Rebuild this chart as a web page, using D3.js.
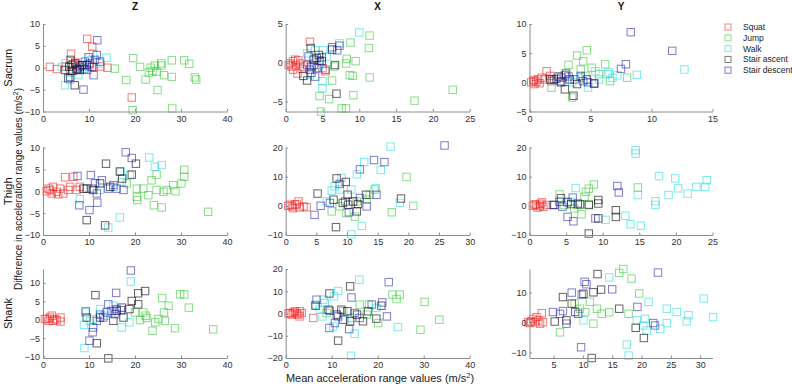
<!DOCTYPE html>
<html>
<head>
<meta charset="utf-8">
<script src="https://cdn.jsdelivr.net/npm/d3@7"></script>
<style>
  body { margin: 0; background: #fff; }
  text { font-family: "Liberation Sans", Arial, sans-serif; }
</style>
</head>
<body>
<div id="chart"></div>
<script>
// categories
const activities = ["Squat", "Jump", "Walk", "Stair ascent", "Stair descent"];
const segments = ["Sacrum", "Thigh", "Shank"];
const directions = ["Z", "X", "Y"];

// each panel: [squat, jump, walk, stair ascent, stair descent], points are [mean, difference]
const sacrumZ = [
    [[1.5,0.2],[3,-0.3],[6.1,3.2],[9.6,6.6],[10.7,4.8],[14,0],[19.3,-6.8],[5,0.3],[6.5,0.8],[7.5,-0.5],[8,0.5],[9,-0.3],[10,0.6],[11,0.2],[12.5,0.3],[6,-0.8],[7,1.2]],
    [[15.6,-0.2],[18.1,-2.8],[19.6,2.2],[19.5,-9.7],[21.1,0.2],[22.3,-2.7],[23.4,0],[23,-1.1],[24.7,-0.9],[24.9,-5.1],[25.7,1],[25.7,0.5],[26.3,-1.7],[28,1.7],[28,-2.1],[28.1,-9.3],[30.7,1.7],[31.8,0.9],[33,-2.2],[33.3,-2.7],[23.8,-0.7],[24.3,0.5]],
    [[13.8,2.3],[12.4,1],[4.8,-4],[5.9,-2.8],[7.7,-1.7],[4.1,0.2],[8.8,-0.2],[10.2,1.8],[10.9,3.3],[7.2,-0.5],[4.9,1],[9.5,0.2]],
    [[6.9,-4],[5.5,-2.4],[6.2,0.6],[7.3,-0.2],[8.4,0.6],[6,1.8],[4.8,-0.5],[8,-0.5],[7,1],[9.5,0.6],[6.4,-0.7],[5.7,0.2]],
    [[11.8,6.3],[8.8,-5],[11,-1.7],[10.2,1],[9.6,-0.5],[10.6,0.2],[11.3,1.8],[12.4,1.4],[8,0.2],[9.1,1.4],[9.9,2.4],[5.9,-2.1],[11.7,2.9],[7.5,-0.4],[8.6,0.6]]
];
const sacrumX = [
    [[0.6,-0.1],[1,0.2],[1.4,-0.3],[0.8,-0.5],[1.7,0.3],[1,-0.9],[1.6,-1.4],[3.3,2.7],[2.4,-0.5],[0.4,-0.3],[2,-0.1],[1.3,0.4],[2.2,-0.8],[5,-0.7],[5.4,-1.1]],
    [[11.4,3.5],[11.3,1.9],[8.8,2.6],[8.3,0.5],[9.5,0.2],[8.2,-0.1],[8.7,-1.6],[9.1,-1.7],[11.4,-1.9],[6.3,-2.3],[4.6,-4.3],[5.9,-4.7],[9.2,-4.2],[4.8,-6.3],[7.6,-5.9],[8.2,-5.9],[17.5,-4.9],[22.7,-3.5],[6.6,-0.5]],
    [[10,3.9],[7.3,2.5],[5,-2.4],[5,-3.3],[4,1.6],[2.9,1.2],[5.6,0.8],[3.3,-1.6],[4.5,-0.3],[5.1,1.6]],
    [[3.4,1.9],[2.9,-2.3],[6.7,-0.3],[6.9,-4],[3.8,0.4],[4.9,0.2],[4.2,0.6],[2.4,-1.7],[6.3,1.7],[3.5,-0.5],[4.5,1]],
    [[7.3,2.2],[7,1.6],[6.3,2],[3.1,0.8],[3.8,-0.3],[4,-1.8],[3.3,-0.9],[4.6,0.3],[5.4,-0.9],[2.9,-0.3],[4.2,-0.7],[3.5,-1.3],[4.9,0.7]]
];
const sacrumY = [
    [[0.14,0],[0.3,0.2],[0.4,-0.3],[0.7,0.5],[1,0.8],[1.4,1.9],[0.55,0.1],[1.25,0.5],[1.7,1.1],[0.36,0.4],[0.83,-0.15],[1.8,0.2]],
    [[3.9,4.6],[4.7,5.5],[4.4,3.6],[3.2,3],[5.1,2.5],[6.2,3.1],[6.6,0.2],[8,0.8],[1.8,-0.9],[3.5,-2.6],[5.7,1.4],[4.2,2.2],[4.6,1.1]],
    [[12.7,2.2],[8.8,1.3],[6.5,1.7],[7.2,1.2],[5.7,0.5],[4.8,-0.9],[4.2,0.8],[5.4,1.9],[6.8,0.8],[3.5,0],[6.4,1.4]],
    [[2.9,-1.2],[3.6,-2.3],[3.3,0.5],[2.4,1],[4.7,0.5],[2.6,0],[2,0.5],[3.9,-0.3],[5.3,-0.2],[3,1.5],[1.7,0.5]],
    [[8.3,8.6],[11.7,5.4],[7.9,3.1],[7.5,2.3],[5.3,-0.2],[4.4,0.2],[2.6,0.8],[2.2,0.6],[3.2,1],[3.7,0.5],[2.5,0.2],[4.2,1.1],[4.8,0],[2.9,1.2]]
];
const thighZ = [
    [[0.8,0],[1.5,0.3],[2.2,1],[3,-0.1],[3.7,0.6],[4.8,3.2],[6.6,3.3],[4.4,-0.5],[5.5,0.3],[7.3,0.3],[1.9,-0.5],[5.9,1],[1.2,0.6],[3.3,-0.7],[8,1]],
    [[30.7,4.9],[30.7,3.3],[30.1,1.8],[28.8,0],[24.7,3.8],[23.6,2.5],[24.1,-3.2],[25.8,-3.7],[35.9,-4.7],[20.4,0.6],[20.4,-1.3],[20.5,-2],[22.9,-0.9],[24.7,0.3],[26.2,-0.1],[18.2,1.8],[26.9,0.3],[28.3,1.4],[21.8,0.6]],
    [[23.1,7.7],[24.3,5.6],[25.8,6],[16.7,-6],[14.2,-8.3],[8,-1.8],[18.9,3.7],[16.9,4.5],[15.3,1],[12.4,0.3],[17.1,2.1]],
    [[13.7,6.3],[9.5,-6.6],[13.5,-7.8],[16.7,4.5],[19.3,3.8],[20.2,6.3],[9.5,0.6],[17.2,2.9],[12.4,1.8],[10.9,0.3],[8.8,0.6],[14.6,1]],
    [[18,8.9],[19.3,7.6],[7.5,3.5],[7.9,-3.2],[10.1,-4.3],[10.4,3.7],[11.8,-2.6],[11.7,-0.5],[10.6,0.6],[12.8,2.5],[14.2,0.6],[15.3,1.4],[17.5,0.3],[16,0.6],[11.3,1.8]]
];
const thighX = [
    [[0.4,0],[1,-0.2],[1.5,0.4],[2.1,1.5],[2.3,-0.5],[1.2,-0.8],[2.9,-0.2],[3.4,-0.5],[1.8,0.6],[0.7,0.4]],
    [[19.7,9.9],[20.8,0],[17.3,-2.2],[14.5,5.6],[13.2,2.1],[11.3,-3.7],[9.9,-2.5],[7.5,-1.9],[11.6,1.5],[8.8,-0.2],[13.7,3.8]],
    [[17.1,20.3],[12.8,15],[11.6,10.8],[15.5,12.3],[9.1,9.6],[8,6.7],[7.5,5.2],[8.8,5.6],[10.7,5.6],[14.7,6.1],[18.6,1],[12.4,-6.9],[10.7,-9.8],[6.7,1.5]],
    [[8.2,-7.3],[8.3,9.4],[9.8,8.2],[5.2,4.2],[18.8,2.5],[7.8,2.1],[10.1,3.8],[11.6,-1.9],[10.2,0.4],[11.8,0.6],[13.1,3.8],[9.3,1],[11,1.5]],
    [[25.9,20.7],[14.4,15.7],[16.1,15],[12.1,12.5],[4.7,-3.1],[5.7,0],[8.8,7.5],[10.3,-2.2],[14.8,3.8],[12.1,2.7],[7.2,1],[9.7,1.5],[13.2,-0.2]]
];
const thighY = [
    [[0.45,0],[0.9,0.3],[1.4,-0.1],[1.7,1.2],[1.9,-0.3],[0.7,0.5],[1.1,-0.6],[2.3,0.3],[1.5,0.7]],
    [[8.8,7.3],[8.1,5.9],[7.7,4.8],[14.8,6.3],[4.1,3.9],[7.1,-2.9],[6.1,-0.9],[4.7,0.3],[8.1,0.5],[5.2,1.4],[7.5,3.1],[6.6,0.3]],
    [[14.5,19.1],[14.5,17.9],[17.7,10.2],[19.9,9.4],[20.3,6],[19,3.7],[21.6,4.2],[22.8,6.5],[24,6.5],[24.2,8.8],[17.2,1.6],[17.2,0.3],[14.8,3.7],[13.1,-3.4],[13.8,-6.3],[15.2,-6.8],[10.4,-4.8],[6.3,6.1],[5.7,1.4]],
    [[8.1,-9.5],[11.8,-1.5],[11.8,-3.8],[9.4,2],[9.4,0.8],[9.4,-4.3],[4.3,2.6],[5.7,0.6],[3.4,0.3],[6.9,0.5],[8.1,0.3]],
    [[12,6.8],[12.2,4.6],[9,-4.3],[6,-5.3],[5.2,-3.8],[5.9,2.8],[4.1,1.4],[3.2,0.3],[4.5,-0.3],[6.6,0.8],[5.2,1.2]]
];
const shankZ = [
    [[0.8,0.2],[1.5,0.6],[1.9,1.1],[2.2,-0.3],[1.2,-0.3],[3.8,0.6],[3.8,-0.5],[2.6,0.2],[0.4,0.2],[3,-0.1]],
    [[29.8,6.9],[30.7,6.9],[31.7,3.3],[37,-2.6],[25.9,5.9],[27.3,3.8],[26.3,2],[28.7,-2.3],[23.8,-3],[26.5,-0.3],[24.4,-0.7],[22.3,1.1],[21.1,-0.1],[22.5,0.5],[25.1,0.2],[20,2],[21.8,2]],
    [[19.1,10.4],[9,-7.7],[9.2,2],[8.9,-1.4],[10.2,-0.3],[18.8,-0.7],[17.1,-2.1],[15.3,3.8],[10.9,0.2],[12.4,2.9],[13.5,1.1]],
    [[14.2,-10.5],[11.7,-6.4],[11.4,6.7],[22.2,7.8],[20.7,7.2],[20.7,4.2],[19.3,5.1],[17.1,3.3],[17.5,0.6],[15.3,-0.3],[12.4,0.6],[9.5,0.6],[16,2.4],[18.8,2.9]],
    [[19.1,13.4],[15.9,7.3],[14.2,4.2],[10.8,-3.4],[10.1,-5.7],[9.3,2.3],[10.9,-2.1],[12.4,1.4],[13.8,2],[14.9,2.4],[16,2.9],[13.1,0.6],[15.7,1.5],[11.7,-0.3],[16.9,2.6]]
];
const shankX = [
    [[0.6,0],[1.3,-0.5],[1.7,0.5],[2,1],[2.4,0],[2.7,-0.5],[3.1,1],[3,-1.3],[0.9,0.2],[6,-2],[3.5,0.2]],
    [[24.8,8.5],[23.2,8.5],[24.1,6.5],[30.2,5.2],[33.4,-2.8],[29.3,-7.3],[20.1,-4.3],[18.1,4],[16.1,4],[12.5,1],[14.3,-2],[8.9,0.2],[17.6,-0.5]],
    [[16,15.2],[11.4,10.1],[10.5,7.7],[8.5,4.7],[7.4,1.7],[8,-1.3],[24.4,-6.1],[15,-9.1],[14.2,-19],[10.3,-5.8],[6.4,4],[12.9,-2.8],[19.7,2.5],[8.2,6.2]],
    [[14,12.2],[11.4,-12.2],[9.5,9],[6.5,3.5],[12.1,1.7],[13.4,1],[15.5,-0.5],[17.9,1],[19.7,-2.3],[20.8,3.5],[16.8,-3.5],[11.1,-0.5],[14,-3.5],[9.3,1.7]],
    [[22.4,14.1],[14.3,7.2],[6.7,6.2],[9.5,-6.5],[9.6,1.2],[11.4,-1.3],[13.8,-7],[22,-1.3],[21,5],[18.7,4],[16.1,-2],[10.7,-4.3],[12.5,-2.8],[15,0.2]]
];
const shankY = [
    [[0.7,0.1],[1.2,0.4],[1.5,1.2],[1.8,0.1],[2.1,1.8],[2.4,0.7],[3,3.1],[1,-0.2],[2.7,-0.4],[3.2,0.1]],
    [[16.9,17.9],[16.2,16.6],[18.3,14.7],[19.6,9.7],[6.1,-3.3],[11.8,-0.4],[13.2,2.9],[14.5,3.4],[17.8,2.9],[11.2,6.9],[12.4,4.6],[9.5,4.6],[8.6,6.3],[10.4,3.5]],
    [[14.5,15.1],[21.2,6.9],[24.3,4.6],[26,3.5],[28,2.4],[30.6,8],[32.2,1.8],[27.7,0.4],[24.3,-0.2],[23.2,-2.1],[20.6,1.2],[20.9,-2.7],[17.5,-7.4],[17.8,-11.1],[19.2,0.7],[20.3,-1],[10.1,0.7]],
    [[12.5,16.2],[13.1,11],[11.5,-11.9],[16.2,4.6],[19,-1.8],[20.4,-5.2],[6.6,8.5],[8.1,6.3],[7.2,0.7],[5.2,0.3],[11.8,10.1],[8.7,3.5],[10.1,9.6]],
    [[22.8,16.7],[10.3,13.6],[10.6,12.8],[15,11.1],[8.1,10],[9.8,9.3],[19.3,5.2],[22,-0.2],[22.3,-1],[9.7,-8.3],[7.2,-0.4],[6.6,3.8],[4.9,3.5],[6.1,2.9],[9.2,2.9]]
];

// axis limits and ticks, panels in reading order
const xDomains = [[0,40],[0,25],[0,15],[0,40],[0,30],[0,25],[0,40],[0,40],[0.9,32.1]];
const yDomains = [[-10,10],[-6.3,5],[-5,10],[-10,10],[-10,20],[-10,20],[-10.4,13.8],[-20,20],[-11.9,17.9]];
const xTicks = [[0,10,20,30,40],[0,5,10,15,20,25],[0,5,10,15],[0,10,20,30,40],[0,5,10,15,20,25,30],[0,5,10,15,20,25],[0,10,20,30,40],[0,10,20,30,40],[5,10,15,20,25,30]];
const yTicks = [[-10,-5,0,5,10],[-5,0,5],[-5,0,5,10],[-10,-5,0,5,10],[-10,0,10,20],[-10,0,10,20],[-10,-5,0,5,10],[-20,-10,0,10,20],[-10,0,10]];

const panels = [sacrumZ, sacrumX, sacrumY, thighZ, thighX, thighY, shankZ, shankX, shankY];
const colors = ["#ee1111", "#22c422", "#11d8dd", "#111111", "#1212a8"];

const width = 792, height = 388;
const colX = [[43, 227], [285.7, 469.7], [529.5, 712.5]];
const rowY = [[24, 111.5], [147.5, 235], [269, 358]];
const markerSize = 7.4;

const svg = d3.select("#chart").append("svg")
    .attr("width", width)
    .attr("height", height);

panels.forEach((data, i) => {
    const r = Math.floor(i / 3), c = i % 3;
    const x = d3.scaleLinear().domain(xDomains[i]).range(colX[c]);
    const y = d3.scaleLinear().domain(yDomains[i]).range([rowY[r][1], rowY[r][0]]);

    const g = svg.append("g");

    // markers
    data.forEach((pts, k) => {
        g.append("g").selectAll("rect")
            .data(pts)
            .enter().append("rect")
            .attr("x", d => x(d[0]) - markerSize / 2)
            .attr("y", d => y(d[1]) - markerSize / 2)
            .attr("width", markerSize)
            .attr("height", markerSize)
            .attr("fill", "none")
            .attr("stroke", colors[k])
            .attr("stroke-opacity", k === 3 ? 0.65 : 0.55)
            .attr("stroke-width", 1);
    });

    const xAxis = d3.axisBottom(x).tickValues(xTicks[i]).tickSizeInner(-2.5).tickSizeOuter(0).tickPadding(4);
    const yAxis = d3.axisLeft(y).tickValues(yTicks[i]).tickSizeInner(-2.5).tickSizeOuter(0).tickPadding(3);

    const gx = g.append("g")
        .attr("transform", `translate(0,${rowY[r][1]})`)
        .call(xAxis);
    const gy = g.append("g")
        .attr("transform", `translate(${colX[c][0]},0)`)
        .call(yAxis);

    [gx, gy].forEach(ax => {
        ax.select(".domain").attr("stroke", "#8c8c8c");
        ax.selectAll(".tick line").attr("stroke", "#8c8c8c");
        ax.selectAll(".tick text")
            .attr("fill", "#303030")
            .style("font-size", "9px")
            .style("font-family", "'Liberation Sans', Arial, sans-serif");
    });

    // column titles
    if (r === 0) {
        svg.append("text")
            .attr("x", (colX[c][0] + colX[c][1]) / 2)
            .attr("y", 10)
            .attr("text-anchor", "middle")
            .style("font-size", "10px")
            .style("font-weight", "bold")
            .attr("fill", "#111")
            .text(directions[c]);
    }
    // row labels
    if (c === 0) {
        svg.append("text")
            .attr("transform", `translate(12,${(rowY[r][0] + rowY[r][1]) / 2}) rotate(-90)`)
            .attr("text-anchor", "middle")
            .style("font-size", "11px")
            .attr("fill", "#111")
            .text(segments[r]);
    }
});

// y axis title
const yTitle = svg.append("text")
    .attr("transform", "translate(22,189) rotate(-90)")
    .attr("text-anchor", "middle")
    .style("font-size", "10px")
    .attr("fill", "#222");
yTitle.append("tspan").text("Difference in acceleration range values (m/s");
yTitle.append("tspan").attr("dy", -4).style("font-size", "7px").text("2");
yTitle.append("tspan").attr("dy", 4).text(")");

// x axis title
const xTitle = svg.append("text")
    .attr("x", 380)
    .attr("y", 382)
    .attr("text-anchor", "middle")
    .style("font-size", "11px")
    .attr("fill", "#222");
xTitle.append("tspan").text("Mean acceleration range values (m/s");
xTitle.append("tspan").attr("dy", -4).style("font-size", "7.5px").text("2");
xTitle.append("tspan").attr("dy", 4).text(")");

// legend
const legend = svg.append("g").attr("transform", "translate(728,27)");
activities.forEach((name, k) => {
    const row = legend.append("g").attr("transform", `translate(0,${k * 10.8})`);
    row.append("rect")
        .attr("x", -3).attr("y", -3)
        .attr("width", 6).attr("height", 6)
        .attr("fill", "none")
        .attr("stroke", colors[k])
        .attr("stroke-opacity", 0.55);
    row.append("text")
        .attr("x", 15)
        .attr("y", 3)
        .style("font-size", "8.5px")
        .attr("fill", "#222")
        .text(name);
});
</script>
</body>
</html>
